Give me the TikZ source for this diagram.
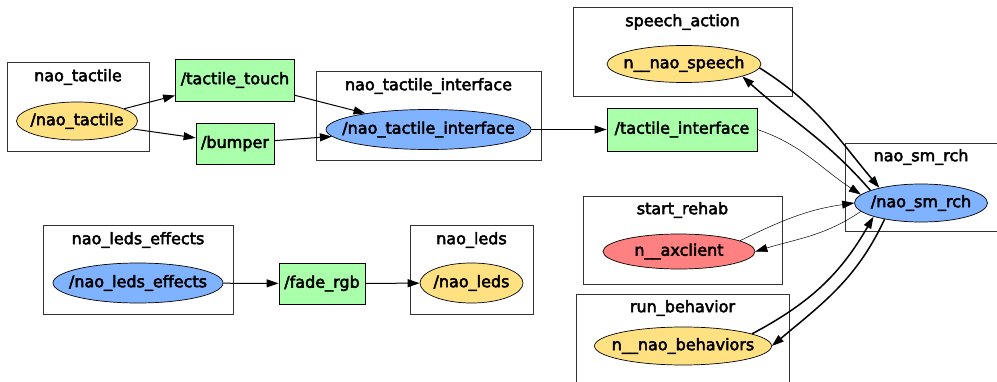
\documentclass[tikz,border=0pt]{standalone}
\usepackage{fontspec}
\setmainfont{DejaVu Sans}
\newfontfamily\graphfont{DejaVu Sans}[FakeBold=3]
\usepackage{tikz}
\usetikzlibrary{shapes.geometric, arrows.meta, positioning}
\usepackage{xcolor}
\definecolor{nodeyellow}{RGB}{255,225,130}
\definecolor{nodeblue}{RGB}{128,179,255}
\definecolor{nodered}{RGB}{255,128,128}
\definecolor{topicgreen}{RGB}{170,255,170}

\begin{document}
\begin{tikzpicture}[
    x=1pt, y=-1pt,
    font=\graphfont\fontsize{16}{19}\selectfont,
    cluster/.style={rectangle, draw=black!80, line width=0.9pt, inner sep=0pt},
    title/.style={inner sep=0pt},
    rosnode/.style={ellipse, draw, line width=0.7pt, inner xsep=-120pt, inner ysep=0pt, minimum height=38pt},
    topic/.style={rectangle, draw, line width=0.8pt, fill=topicgreen, inner sep=0pt, minimum height=42pt},
    arrow/.style={-{Triangle[length=12pt, width=8pt]}, line width=1pt},
    thinarrow/.style={arrow, line width=0.5pt},
    thickarrow/.style={arrow, line width=1.5pt}
]
    \useasboundingbox (0,0) rectangle (997,382);

    % Namespaces
    \node[cluster, minimum width=142pt, minimum height=89pt] (cltactile) at (78,106.5) {};
    \node[title] (tltactile) at (78,77) {nao\_tactile};
    \node[cluster, minimum width=225pt, minimum height=89pt] (clinterface) at (428.5,115.5) {};
    \node[title] (tlinterface) at (428.5,86) {nao\_tactile\_interface};
    \node[cluster, minimum width=219pt, minimum height=89pt] (clspeech) at (682.5,51.5) {};
    \node[title] (tlspeech) at (682.5,22) {speech\_action};
    \node[cluster, minimum width=160pt, minimum height=88pt] (clsmrch) at (925,187) {};
    \node[title] (tlsmrch) at (921,157) {nao\_sm\_rch};
    \node[cluster, minimum width=199pt, minimum height=88pt] (clrehab) at (682.5,240) {};
    \node[title] (tlrehab) at (682.5,210) {start\_rehab};
    \node[cluster, minimum width=213pt, minimum height=95pt] (clbehavior) at (682.5,341.5) {};
    \node[title] (tlbehavior) at (682.5,308) {run\_behavior};
    \node[cluster, minimum width=190pt, minimum height=89pt] (clledsfx) at (138,269.5) {};
    \node[title] (tlledsfx) at (138,240) {nao\_leds\_effects};
    \node[cluster, minimum width=123pt, minimum height=89pt] (clleds) at (471.5,269.5) {};
    \node[title] (tlleds) at (471.5,240) {nao\_leds};

    % ROS nodes
    \node[rosnode, fill=nodeyellow, minimum width=121pt] (tactile) at (77,121) {/nao\_tactile};
    \node[rosnode, fill=nodeblue, minimum width=205pt, minimum height=40pt] (interface) at (428.5,129.5) {/nao\_tactile\_interface};
    \node[rosnode, fill=nodeyellow, minimum width=154pt, minimum height=37pt] (speech) at (684,64) {n\_\_nao\_speech};
    \node[rosnode, fill=nodeblue, minimum width=133pt] (smrch) at (921,203) {/nao\_sm\_rch};
    \node[rosnode, fill=nodered, minimum width=152pt, minimum height=35pt] (axclient) at (679,251.5) {n\_\_axclient};
    \node[rosnode, fill=nodeyellow, minimum width=177pt] (behaviors) at (683,346) {n\_\_nao\_behaviors};
    \node[rosnode, fill=nodeblue, minimum width=170pt, minimum height=40pt] (ledsfx) at (138,283) {/nao\_leds\_effects};
    \node[rosnode, fill=nodeyellow, minimum width=103pt, minimum height=40pt] (leds) at (471.5,283) {/nao\_leds};

    % Topics
    \node[topic, minimum width=119pt] (touch) at (235,80) {/tactile\_touch};
    \node[topic, minimum width=78pt, minimum height=41pt] (bumper) at (235,143.5) {/bumper};
    \node[topic, minimum width=150pt, minimum height=43pt] (tinterface) at (682,129.5) {/tactile\_interface};
    \node[topic, minimum width=86pt, minimum height=41pt] (fadergb) at (322,283.5) {/fade\_rgb};

    % Connections
    \draw[arrow] (tactile) -- (touch);
    \draw[arrow] (tactile) -- (bumper);
    \draw[arrow] (touch) -- (interface);
    \draw[arrow] (bumper) -- (interface);
    \draw[arrow] (interface) -- (tinterface);
    \draw[arrow] (ledsfx) -- (fadergb);
    \draw[arrow] (fadergb) -- (leds);
    \draw[thinarrow] (tinterface.east) to[out=-19, in=147] (smrch.172);

    % Action links to the state machine
    \draw[thickarrow] (speech.-3) to[out=-32, in=130] (smrch.160);
    \draw[thickarrow] (smrch.166) to[out=131, in=-42] (speech.-12);
    \draw[thinarrow] (axclient.10) to[out=26, in=188] (smrch.180);
    \draw[thinarrow] (smrch.188) to[out=214, in=17] (axclient.east);
    \draw[thickarrow] (behaviors.10) to[out=28, in=-120] (smrch.196);
    \draw[thickarrow] (smrch.204) to[out=245, in=40] (behaviors.east);
\end{tikzpicture}
\end{document}
